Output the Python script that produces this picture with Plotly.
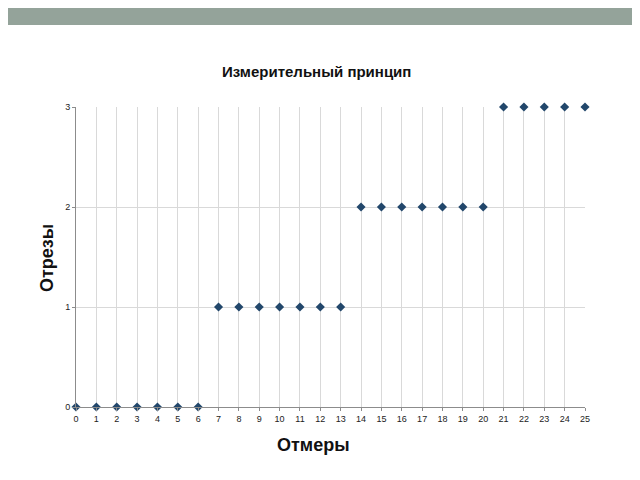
import plotly.graph_objects as go

# measures (x) and cuts (y)
otmery = list(range(26))
otrezy = [0] * 7 + [1] * 7 + [2] * 7 + [3] * 5

x_ticks = list(range(26))
y_ticks = [0, 1, 2, 3]

MARKER_COLOR = "#22476b"
GRID_COLOR = "#d9d9d9"
AXIS_COLOR = "#8c8c8c"
FONT = "Liberation Sans Narrow, Liberation Sans, Arial"

# the page puts the plot 8px in from the top-left, so margins are shifted
PAGE_OFFSET = 8
L, T, R, B = 76, 107, 55, 73
PLOT_W, PLOT_H = 640 - L - R, 480 - T - B

fig = go.Figure()
fig.add_trace(
    go.Scatter(
        x=otmery,
        y=otrezy,
        mode="markers",
        marker=dict(symbol="diamond", size=7, color=MARKER_COLOR),
        cliponaxis=False,
        showlegend=False,
    )
)

axis_common = dict(
    showgrid=True,
    gridcolor=GRID_COLOR,
    gridwidth=1,
    showline=True,
    linecolor=AXIS_COLOR,
    linewidth=1,
    zeroline=False,
    ticks="outside",
    ticklen=3,
    tickcolor=AXIS_COLOR,
    tickfont=dict(family=FONT, size=9, color="#222222"),
)


def px_to_paper_x(px):
    return (px - L) / PLOT_W


def px_to_paper_y(py):
    return 1 - (py - T) / PLOT_H


fig.update_layout(
    width=640,
    height=480,
    paper_bgcolor="white",
    plot_bgcolor="white",
    margin=dict(
        l=L - PAGE_OFFSET, r=R + PAGE_OFFSET, t=T - PAGE_OFFSET, b=B + PAGE_OFFSET
    ),
    xaxis=dict(range=[0, 25], tickvals=x_ticks, **axis_common),
    yaxis=dict(range=[0, 3], tickvals=y_ticks, **axis_common),
    annotations=[
        dict(
            text="<b>Измерительный принцип</b>",
            xref="paper",
            yref="paper",
            x=px_to_paper_x(316),
            y=px_to_paper_y(72),
            xanchor="center",
            yanchor="middle",
            showarrow=False,
            font=dict(family=FONT, size=15, color="#111111"),
        ),
        dict(
            text="<b>Отмеры</b>",
            xref="paper",
            yref="paper",
            x=px_to_paper_x(313),
            y=px_to_paper_y(445),
            xanchor="center",
            yanchor="middle",
            showarrow=False,
            font=dict(family=FONT, size=18, color="#111111"),
        ),
        dict(
            text="<b>Отрезы</b>",
            xref="paper",
            yref="paper",
            x=px_to_paper_x(47),
            y=px_to_paper_y(258),
            xanchor="center",
            yanchor="middle",
            textangle=-90,
            showarrow=False,
            font=dict(family=FONT, size=18, color="#111111"),
        ),
    ],
    shapes=[
        dict(
            type="rect",
            xref="paper",
            yref="paper",
            x0=-0.2,
            x1=1.2,
            y0=px_to_paper_y(25),
            y1=px_to_paper_y(-20),
            fillcolor="#94a39a",
            line=dict(width=0),
            layer="below",
        )
    ],
)

fig.write_html("out.html")
